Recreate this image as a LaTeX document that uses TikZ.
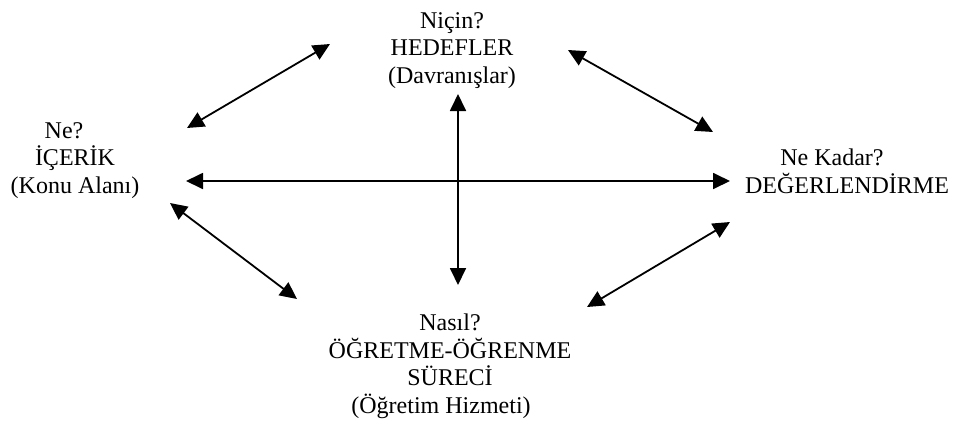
\documentclass[tikz,border=0pt]{standalone}
\usepackage{fontspec}
\setmainfont{Liberation Serif}
\usetikzlibrary{arrows.meta}
\begin{document}
\begin{tikzpicture}[x=0.5pt,y=-0.5pt,
  lbl/.style={align=center,inner sep=0pt,anchor=base,font=\fontsize{12pt}{13.7pt}\selectfont},
  conn/.style={line width=0.9pt,{Triangle[length=8.5pt,width=8pt]}-{Triangle[length=8.5pt,width=8pt]}}]
\path[use as bounding box] (0,0) rectangle (953,424);
% labels (anchor = baseline of last line)
\node[lbl] (hedef) at (452,83) {Niçin?\\HEDEFLER\\(Davranışlar)};
\node[lbl] (icerik) at (75,193) {Ne?\hspace*{11pt}\\İÇERİK\hspace*{26pt}\\(Konu Alanı)};
\node[lbl] (deger) at (847,193) {Ne Kadar?\hspace*{15pt}\\DEĞERLENDİRME};
\node[lbl] (surec) at (450,413) {Nasıl?\\ÖĞRETME-ÖĞRENME\\SÜRECİ\\(Öğretim Hizmeti)\hspace*{9pt}};
% connector ends
\coordinate (a1s) at (187,128); \coordinate (a1e) at (330,44);
\coordinate (a2s) at (568,50);  \coordinate (a2e) at (713,132);
\coordinate (hs) at (186,181);  \coordinate (he) at (730,181);
\coordinate (vs) at (458,94);   \coordinate (ve) at (458,285);
\coordinate (a3s) at (170,203); \coordinate (a3e) at (297,299);
\coordinate (a4s) at (587,307); \coordinate (a4e) at (730,222);
% connectors
\draw[conn] (a1s) -- (a1e);
\draw[conn] (a2s) -- (a2e);
\draw[conn] (hs) -- (he);
\draw[conn] (vs) -- (ve);
\draw[conn] (a3s) -- (a3e);
\draw[conn] (a4s) -- (a4e);
\end{tikzpicture}
\end{document}
